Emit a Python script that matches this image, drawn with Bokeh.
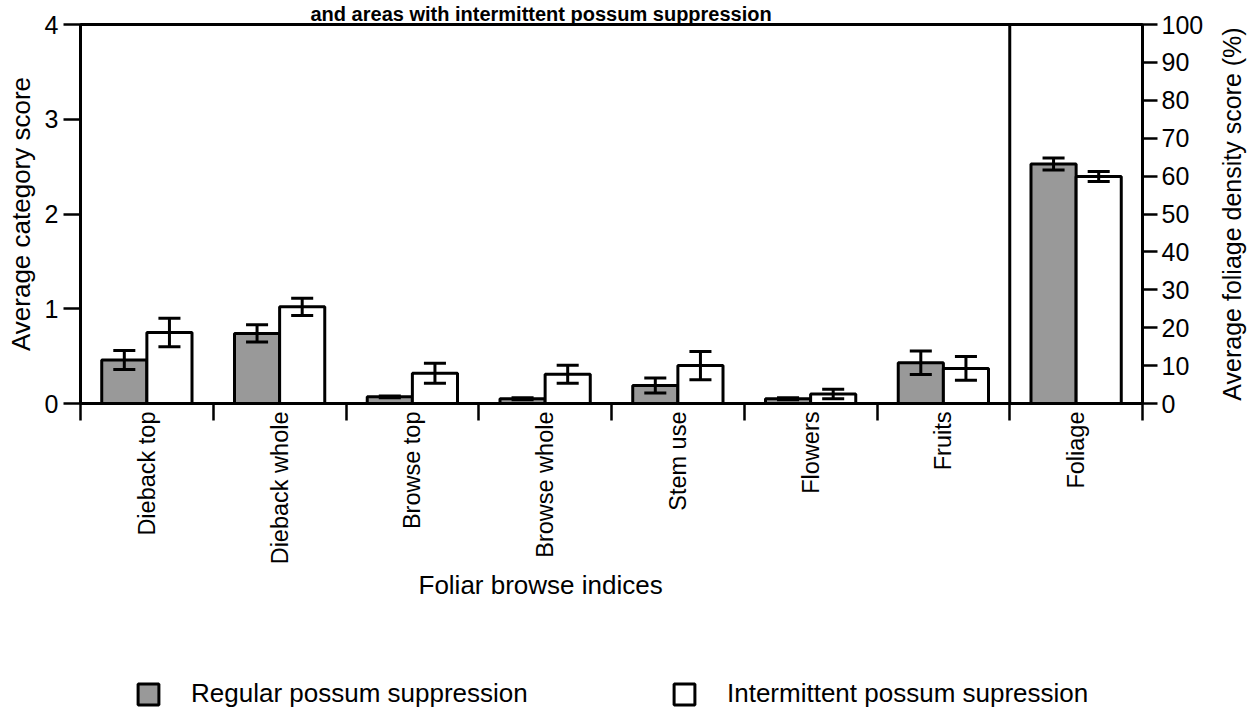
import math
from bokeh.plotting import figure
from bokeh.layouts import column, row
from bokeh.core.properties import value
from bokeh.models import (Range1d, LinearAxis, FixedTicker, Span, Title,
                          Legend, LegendItem, ColumnDataSource)
from bokeh.embed import file_html
from bokeh.resources import INLINE

# ---------------- data ----------------
categories = ["Dieback top", "Dieback whole", "Browse top", "Browse whole",
              "Stem use", "Flowers", "Fruits"]
regular = [0.46, 0.74, 0.07, 0.05, 0.19, 0.05, 0.43]
regular_err = [0.10, 0.09, 0.01, 0.01, 0.08, 0.01, 0.125]
intermittent = [0.75, 1.02, 0.32, 0.31, 0.40, 0.10, 0.37]
intermittent_err = [0.15, 0.09, 0.105, 0.095, 0.15, 0.05, 0.125]

foliage_category = "Foliage"
foliage_regular = [63.2]
foliage_regular_err = [1.6]
foliage_intermittent = [59.9]
foliage_intermittent_err = [1.3]

left_ticks = [0, 1, 2, 3, 4]
right_ticks = [0, 10, 20, 30, 40, 50, 60, 70, 80, 90, 100]

title_text = "and areas with intermittent possum suppression"
x_title = "Foliar browse indices"
y_title = "Average category score"
y2_title = "Average foliage density score (%)"
legend_labels = ["Regular possum suppression", "Intermittent possum supression"]

# ---------------- layout ----------------
FONT = "Liberation Sans"
GREY = "#999999"
all_cats = categories + [foliage_category]
ncat = len(all_cats)
centers = [i + 0.5 for i in range(ncat)]
bounds = [float(i) for i in range(ncat + 1)]
BW = 0.34
CAP = 0.083

W = 1250
WP = 1212            # main figure width; the rest holds the right-hand axis title
H1, H2 = 620, 89
FL, FR, FT, FB = 80, 1142, 24, 403

p = figure(width=WP, height=H1, x_range=Range1d(0, ncat), y_range=Range1d(0, 4),
           output_backend="svg", toolbar_location=None,
           min_border_left=FL, min_border_right=WP - FR, min_border_top=FT,
           min_border_bottom=H1 - FB)
p.extra_y_ranges = {"right": Range1d(0, 100)}
p.xgrid.visible = False
p.ygrid.visible = False
p.outline_line_color = "black"
p.outline_line_width = 3
p.background_fill_color = "white"
p.border_fill_color = "white"

# bottom axis: names at centres, category boundaries as (minor) ticks
xa = p.xaxis[0]
xa.ticker = FixedTicker(ticks=centers, minor_ticks=bounds)
xa.major_label_overrides = {c: n for c, n in zip(centers, all_cats)}
xa.major_label_orientation = math.pi / 2
xa.major_tick_out = 0
xa.major_tick_in = 0
xa.minor_tick_out = 17
xa.minor_tick_in = 0
xa.minor_tick_line_width = 2.5
xa.minor_tick_line_color = "black"
xa.axis_line_width = 3
xa.major_label_standoff = -9
xa.major_label_text_font = FONT
xa.major_label_text_font_size = "23.5px"
xa.major_label_text_color = "black"

# left axis
ya = p.yaxis[0]
ya.ticker = FixedTicker(ticks=left_ticks, minor_ticks=[])
ya.major_tick_out = 17
ya.major_tick_in = 0
ya.major_tick_line_width = 2.5
ya.axis_line_width = 3
ya.major_label_standoff = 5
ya.major_label_text_font = FONT
ya.major_label_text_font_size = "25px"
ya.major_label_text_color = "black"
ya.axis_label = y_title
ya.axis_label_text_font = FONT
ya.axis_label_text_font_size = "26px"
ya.axis_label_text_font_style = "normal"
ya.axis_label_text_color = "black"
ya.axis_label_standoff = 6

# right axis (its title is drawn in the narrow strip to the right)
ra = LinearAxis(y_range_name="right", ticker=FixedTicker(ticks=right_ticks, minor_ticks=[]))
ra.major_tick_out = 15
ra.major_tick_in = 0
ra.major_tick_line_width = 2.5
ra.axis_line_width = 3
ra.major_label_standoff = 4
ra.major_label_text_font = FONT
ra.major_label_text_font_size = "25px"
ra.major_label_text_color = "black"
p.add_layout(ra, "right")

# ---------------- bars ----------------
src_reg = ColumnDataSource(dict(x=[c - BW / 2 for c in centers[:-1]], top=regular))
src_int = ColumnDataSource(dict(x=[c + BW / 2 for c in centers[:-1]], top=intermittent))
p.vbar(x="x", top="top", bottom=0, width=BW, source=src_reg,
       fill_color=GREY, line_color="black", line_width=3)
p.vbar(x="x", top="top", bottom=0, width=BW, source=src_int,
       fill_color="white", line_color="black", line_width=3)

src_freg = ColumnDataSource(dict(x=[centers[-1] - BW / 2], top=foliage_regular))
src_fint = ColumnDataSource(dict(x=[centers[-1] + BW / 2], top=foliage_intermittent))
p.vbar(x="x", top="top", bottom=0, width=BW, source=src_freg, y_range_name="right",
       fill_color=GREY, line_color="black", line_width=3)
p.vbar(x="x", top="top", bottom=0, width=BW, source=src_fint, y_range_name="right",
       fill_color="white", line_color="black", line_width=3)


def errbars(xs, vals, errs, rng="default"):
    lo = [v - e for v, e in zip(vals, errs)]
    hi = [v + e for v, e in zip(vals, errs)]
    p.segment(x0=xs, y0=lo, x1=xs, y1=hi, line_color="black", line_width=3,
              y_range_name=rng)
    p.segment(x0=[x - CAP for x in xs], y0=lo, x1=[x + CAP for x in xs], y1=lo,
              line_color="black", line_width=3, y_range_name=rng)
    p.segment(x0=[x - CAP for x in xs], y0=hi, x1=[x + CAP for x in xs], y1=hi,
              line_color="black", line_width=3, y_range_name=rng)


errbars(src_reg.data["x"], regular, regular_err)
errbars(src_int.data["x"], intermittent, intermittent_err)
errbars(src_freg.data["x"], foliage_regular, foliage_regular_err, "right")
errbars(src_fint.data["x"], foliage_intermittent, foliage_intermittent_err, "right")

# divider before the foliage panel
p.add_layout(Span(location=bounds[-2], dimension="height", line_color="black", line_width=3))

# ---------------- titles ----------------
p.add_layout(Title(text=title_text, align="left", offset=230, standoff=0,
                   text_font=FONT, text_font_size="20px", text_font_style="bold",
                   text_color="black"), "above")
p.add_layout(Title(text=x_title, align="left", offset=338, standoff=0,
                   text_font=FONT, text_font_size="26px", text_font_style="normal",
                   text_color="black"), "below")

# ---------------- right-hand axis title strip ----------------
r = figure(width=W - WP, height=H1, x_range=Range1d(0, 1), y_range=Range1d(0, 1),
           output_backend="svg", toolbar_location=None,
           x_axis_location=None, y_axis_location=None,
           min_border_left=0, min_border_right=0, min_border_top=FT,
           min_border_bottom=H1 - FB)
r.xgrid.visible = False
r.ygrid.visible = False
r.outline_line_color = None
r.background_fill_color = "white"
r.border_fill_color = "white"
r.text(x=[0.5], y=[0.5], text=[y2_title], angle=math.pi / 2,
       text_align="center", text_baseline="middle",
       text_font=value(FONT), text_font_size="25px", text_color="black")

# ---------------- legend strip below the chart ----------------
q = figure(width=W, height=H2, x_range=Range1d(0, 1), y_range=Range1d(0, 1),
           output_backend="svg", toolbar_location=None,
           x_axis_location=None, y_axis_location=None,
           min_border_left=FL, min_border_right=W - FR, min_border_top=0,
           min_border_bottom=0)
q.xgrid.visible = False
q.ygrid.visible = False
q.outline_line_color = None
q.background_fill_color = "white"
q.border_fill_color = "white"
# legend swatches: renderers without a drawable point, only their legend entries show
nan = float("nan")
lr_reg = q.vbar(x=[nan], top=[nan], bottom=[nan], width=0.1, fill_color=GREY,
                line_color="black", line_width=3)
lr_int = q.vbar(x=[nan], top=[nan], bottom=[nan], width=0.1, fill_color="white",
                line_color="black", line_width=3)

for lab, rend, xloc in [(legend_labels[0], lr_reg, 55), (legend_labels[1], lr_int, 591)]:
    lg = Legend(items=[LegendItem(label=lab, renderers=[rend])],
                location=(xloc, 0), orientation="horizontal",
                glyph_width=26, glyph_height=26, label_standoff=30, label_height=26,
                label_text_font=FONT, label_text_font_size="26px",
                label_text_color="black", border_line_alpha=0,
                background_fill_alpha=0, padding=0, margin=0, spacing=0)
    q.add_layout(lg)

layout = column(row(p, r, spacing=0), q, spacing=0)
open("out.html", "w").write(file_html(layout, INLINE))
